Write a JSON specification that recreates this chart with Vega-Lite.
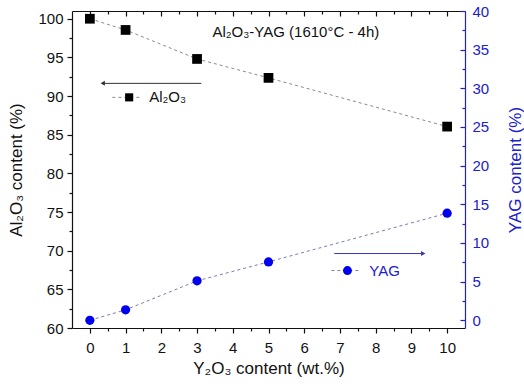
{
  "$schema": "https://vega.github.io/schema/vega-lite/v6.json",
  "width": 393,
  "height": 317,
  "autosize": "none",
  "padding": {"left": 72, "top": 11, "right": 59, "bottom": 56},
  "config": {
    "view": {"stroke": null},
    "font": "Liberation Sans",
    "axis": {"grid": false, "labelFont": "Liberation Sans", "labelFontSize": 15, "labelColor": "#111", "titleFont": "Liberation Sans", "titleFontSize": 17, "titleFontWeight": "normal", "titleColor": "#111", "domainColor": "#111", "tickColor": "#111", "domainWidth": 1.2, "tickWidth": 1.2}
  },
  "datasets": {
    "al": [{"x": 0, "y": 100}, {"x": 1, "y": 98.55}, {"x": 3, "y": 94.8}, {"x": 5, "y": 92.35}, {"x": 10, "y": 86.05}],
    "yag": [{"x": 0, "y": 0}, {"x": 1, "y": 1.35}, {"x": 3, "y": 5.1}, {"x": 5, "y": 7.55}, {"x": 10, "y": 13.85}],
    "alArrow": [{"x": 3.12, "x2": 0.36, "xh": 0.36, "y": 91.64}],
    "alKey": [{"x": 0.63, "x2": 1.46, "xm": 1.1, "xt": 1.66, "y": 89.83, "label": "Al₂O₃"}],
    "title": [{"x": 3.43, "y": 98.23, "label": "Al₂O₃-YAG (1610°C - 4h)"}],
    "yagArrow": [{"x": 6.84, "x2": 9.33, "xh": 9.33, "y": 8.63}],
    "yagKey": [{"x": 6.76, "x2": 7.6, "xm": 7.21, "xt": 7.82, "y": 6.43, "label": "YAG"}]
  },
  "layer": [
    {
      "data": {"name": "al"},
      "encoding": {
        "x": {"field": "x", "type": "quantitative", "scale": {"domain": [-0.5, 10.5], "nice": false, "zero": false},
          "axis": {"orient": "bottom", "values": [0, 1, 2, 3, 4, 5, 6, 7, 8, 9, 10], "tickSize": 5, "labelPadding": 7, "labelFlush": false, "title": "Y₂O₃ content (wt.%)", "titlePadding": 5}},
        "y": {"field": "y", "type": "quantitative", "scale": {"domain": [60, 101], "nice": false, "zero": false},
          "axis": {"orient": "left", "values": [60, 65, 70, 75, 80, 85, 90, 95, 100], "tickSize": 5, "labelPadding": 4, "labelFlush": false, "title": "Al₂O₃ content (%)", "titlePadding": 12}}
      },
      "layer": [
        {"mark": {"type": "line", "color": "#8a8a8a", "strokeWidth": 1, "strokeDash": [3, 3]}},
        {"mark": {"type": "point", "shape": "square", "filled": true, "color": "#000", "opacity": 1, "size": 95}},
        {"data": {"name": "alArrow"}, "mark": {"type": "rule", "color": "#333", "strokeWidth": 1}, "encoding": {"x2": {"field": "x2"}}},
        {"data": {"name": "alArrow"}, "mark": {"type": "point", "shape": "triangle-left", "filled": true, "color": "#333", "opacity": 1, "size": 25}, "encoding": {"x": {"field": "xh", "type": "quantitative"}}},
        {"data": {"name": "alKey"}, "mark": {"type": "rule", "color": "#8a8a8a", "strokeWidth": 1, "strokeDash": [3, 3]}, "encoding": {"x2": {"field": "x2"}}},
        {"data": {"name": "alKey"}, "mark": {"type": "point", "shape": "square", "filled": true, "color": "#000", "opacity": 1, "size": 66}, "encoding": {"x": {"field": "xm", "type": "quantitative"}}},
        {"data": {"name": "alKey"}, "mark": {"type": "text", "align": "left", "baseline": "middle", "fontSize": 15, "color": "#111"}, "encoding": {"x": {"field": "xt", "type": "quantitative"}, "text": {"field": "label"}}},
        {"data": {"name": "title"}, "mark": {"type": "text", "align": "left", "baseline": "middle", "fontSize": 15, "color": "#111"}, "encoding": {"text": {"field": "label"}}}
      ]
    },
    {
      "data": {"name": "yag"},
      "encoding": {
        "x": {"field": "x", "type": "quantitative", "scale": {"domain": [-0.5, 10.5], "nice": false, "zero": false}, "axis": null},
        "y": {"field": "y", "type": "quantitative", "scale": {"domain": [-1, 40], "nice": false, "zero": false},
          "axis": {"orient": "right", "values": [0, 5, 10, 15, 20, 25, 30, 35, 40], "ticks": false, "labelPadding": 7, "labelFlush": false, "labelColor": "#2020cc", "domainColor": "#2020cc", "title": "YAG content (%)", "titleColor": "#2020cc", "titleAngle": -90, "titlePadding": 36}}
      },
      "layer": [
        {"mark": {"type": "line", "color": "#7b7bb0", "strokeWidth": 1, "strokeDash": [3, 3]}},
        {"mark": {"type": "point", "shape": "circle", "filled": true, "color": "#0000ee", "opacity": 1, "size": 85}},
        {"data": {"name": "yagArrow"}, "mark": {"type": "rule", "color": "#3535b5", "strokeWidth": 1}, "encoding": {"x2": {"field": "x2"}}},
        {"data": {"name": "yagArrow"}, "mark": {"type": "point", "shape": "triangle-right", "filled": true, "color": "#3535b5", "opacity": 1, "size": 25}, "encoding": {"x": {"field": "xh", "type": "quantitative"}}},
        {"data": {"name": "yagKey"}, "mark": {"type": "rule", "color": "#7b7bb0", "strokeWidth": 1, "strokeDash": [3, 3]}, "encoding": {"x2": {"field": "x2"}}},
        {"data": {"name": "yagKey"}, "mark": {"type": "point", "shape": "circle", "filled": true, "color": "#0000ee", "opacity": 1, "size": 80}, "encoding": {"x": {"field": "xm", "type": "quantitative"}}},
        {"data": {"name": "yagKey"}, "mark": {"type": "text", "align": "left", "baseline": "middle", "fontSize": 15, "color": "#2020cc"}, "encoding": {"x": {"field": "xt", "type": "quantitative"}, "text": {"field": "label"}}}
      ]
    },
    {
      "data": {"name": "al"},
      "mark": {"type": "rule", "opacity": 0},
      "encoding": {"x": {"field": "x", "type": "quantitative", "scale": {"domain": [-0.5, 10.5], "nice": false, "zero": false},
        "axis": {"orient": "bottom", "values": [0.5, 1.5, 2.5, 3.5, 4.5, 5.5, 6.5, 7.5, 8.5, 9.5], "tickSize": 3, "labels": false, "domain": false, "title": null}}}
    },
    {
      "data": {"name": "al"},
      "mark": {"type": "rule", "opacity": 0},
      "encoding": {"x": {"field": "x", "type": "quantitative", "scale": {"domain": [-0.5, 10.5], "nice": false, "zero": false},
        "axis": {"orient": "top", "values": [0, 1, 2, 3, 4, 5, 6, 7, 8, 9, 10], "tickSize": -5, "labels": false, "domain": true, "title": null}}}
    },
    {
      "data": {"name": "al"},
      "mark": {"type": "rule", "opacity": 0},
      "encoding": {"x": {"field": "x", "type": "quantitative", "scale": {"domain": [-0.5, 10.5], "nice": false, "zero": false},
        "axis": {"orient": "top", "values": [0.5, 1.5, 2.5, 3.5, 4.5, 5.5, 6.5, 7.5, 8.5, 9.5], "tickSize": -3, "labels": false, "domain": false, "title": null}}}
    },
    {
      "data": {"name": "al"},
      "mark": {"type": "rule", "opacity": 0},
      "encoding": {"y": {"field": "y", "type": "quantitative", "scale": {"domain": [60, 101], "nice": false, "zero": false},
        "axis": {"orient": "left", "values": [62.5, 67.5, 72.5, 77.5, 82.5, 87.5, 92.5, 97.5], "tickSize": 3, "labels": false, "domain": false, "title": null}}}
    },
    {
      "data": {"name": "yag"},
      "mark": {"type": "rule", "opacity": 0},
      "encoding": {"y": {"field": "y", "type": "quantitative", "scale": {"domain": [-1, 40], "nice": false, "zero": false},
        "axis": {"orient": "right", "values": [0, 5, 10, 15, 20, 25, 30, 35, 40], "tickSize": -5, "tickColor": "#2020cc", "labels": false, "domain": false, "title": null}}}
    },
    {
      "data": {"name": "yag"},
      "mark": {"type": "rule", "opacity": 0},
      "encoding": {"y": {"field": "y", "type": "quantitative", "scale": {"domain": [-1, 40], "nice": false, "zero": false},
        "axis": {"orient": "right", "values": [2.5, 7.5, 12.5, 17.5, 22.5, 27.5, 32.5, 37.5], "tickSize": -3, "tickColor": "#2020cc", "labels": false, "domain": false, "title": null}}}
    }
  ],
  "resolve": {"scale": {"y": "independent"}, "axis": {"x": "independent", "y": "independent"}}
}
